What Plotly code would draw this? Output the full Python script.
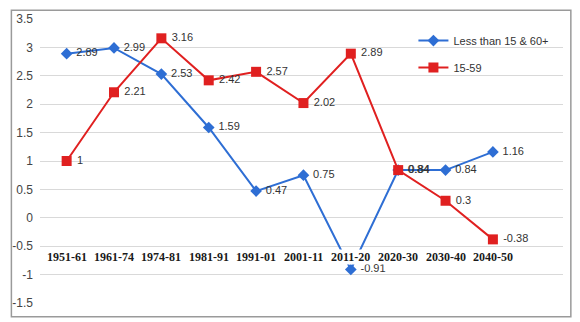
import plotly.graph_objects as go

periods = ["1951-61", "1961-74", "1974-81", "1981-91", "1991-01",
           "2001-11", "2011-20", "2020-30", "2030-40", "2040-50"]
dependent = [2.89, 2.99, 2.53, 1.59, 0.47, 0.75, -0.91, 0.84, 0.84, 1.16]
working = [1, 2.21, 3.16, 2.42, 2.57, 2.02, 2.89, 0.84, 0.3, -0.38]
y_ticks = [-1.5, -1, -0.5, 0, 0.5, 1, 1.5, 2, 2.5, 3, 3.5]

BLUE = "#2E6ED4"
RED = "#E02020"
label_font = dict(family="Liberation Sans, Arial, sans-serif", size=11, color="#333333")

fig = go.Figure()
fig.add_trace(go.Scatter(
    x=list(range(len(periods))), y=dependent, name="Less than 15 & 60+",
    mode="lines+markers+text", text=[f" {v:g}" for v in dependent],
    textposition="middle right", textfont=label_font,
    line=dict(color=BLUE, width=2),
    marker=dict(symbol="diamond", size=9, color=BLUE),
    legendgroup="a", cliponaxis=False,
))
fig.add_trace(go.Scatter(
    x=list(range(len(periods))), y=working, name="15-59",
    mode="lines+markers+text", text=[f" {v:g}" for v in working],
    textposition="middle right", textfont=label_font,
    line=dict(color=RED, width=2),
    marker=dict(symbol="square", size=10, color=RED),
    legendgroup="b", cliponaxis=False,
))

# category labels sit inside the plot with a white backing
for i, p in enumerate(periods):
    fig.add_annotation(
        x=i, y=-0.69, xref="x", yref="y", text=f"<b>{p}</b>", showarrow=False,
        font=dict(family="Liberation Serif, Times New Roman, serif", size=12, color="#1a1a1a"),
        bgcolor="white", borderpad=0,
    )

# outer chart frame
fig.add_shape(type="rect", xref="paper", yref="paper",
              x0=-0.0547, x1=1.015, y0=-0.048, y1=1.031,
              line=dict(color="#9a9a9a", width=1.5), layer="above")

fig.update_layout(
    width=580, height=322,
    margin=dict(l=33, r=17, t=14, b=18),
    paper_bgcolor="white", plot_bgcolor="white",
    showlegend=True,
    legend=dict(x=0.714, y=0.975, xanchor="left", yanchor="top",
                bgcolor="rgba(0,0,0,0)", tracegroupgap=8,
                font=dict(family="Liberation Sans, Arial, sans-serif", size=11, color="#333333"),
                itemwidth=30),
    xaxis=dict(range=[-0.5625, 10.48], showgrid=False, zeroline=False,
               showticklabels=False, showline=False),
    yaxis=dict(range=[-1.5, 3.5], tickvals=y_ticks,
               ticktext=[f"{v:g}" for v in y_ticks],
               showgrid=True, gridcolor="#d9d9d9", gridwidth=1,
               zeroline=False, showline=False, ticks="",
               ticklabelstandoff=6,
               tickfont=dict(family="Liberation Sans, Arial, sans-serif", size=12, color="#444444")),
)

fig.write_html("out.html")
